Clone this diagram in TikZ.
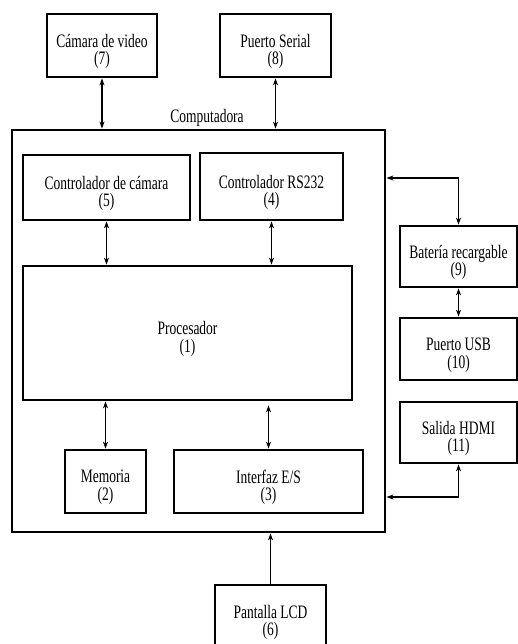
\documentclass[tikz,border=0pt]{standalone}
\usepackage{fontspec}
\setmainfont{Liberation Serif}[FakeStretch=0.71]
\usetikzlibrary{arrows.meta}
\begin{document}
\begin{tikzpicture}[x=1pt,y=-1pt,
  blk/.style={draw,line width=2.8pt,rectangle,inner sep=0pt},
  txt/.style={inner sep=0pt,align=center,font=\fontsize{19}{17.6}\selectfont,yshift=-6pt},
  arr/.style={line width=1.5pt,{Stealth[length=7pt,width=5pt]}-{Stealth[length=7pt,width=5pt]}},
  arrone/.style={line width=1.5pt,-{Stealth[length=7pt,width=5pt]}}]
\fill[white] (0,0) rectangle (518,644);
\useasboundingbox (0,0) rectangle (518,644);
\begin{scope}
\clip (0,0) rectangle (518,644);
\node[blk,minimum width=110pt,minimum height=63pt] (cam7) at (102,45.5) {};
\node[txt] (cam7t) at (cam7.center) {Cámara de video\\(7)};
\node[blk,minimum width=111pt,minimum height=63pt] (ser8) at (275.5,45.5) {};
\node[txt] (ser8t) at (ser8.center) {Puerto Serial\\(8)};
\node[blk,minimum width=373pt,minimum height=402pt] (comp) at (198.5,331) {};
\node[txt,yshift=6pt] (complbl) at (207,118) {Computadora};
\node[blk,minimum width=167pt,minimum height=65pt] (ctl5) at (106.5,187.5) {};
\node[txt] (ctl5t) at (ctl5.center) {Controlador de cámara\\(5)};
\node[blk,minimum width=143pt,minimum height=67pt] (rs4) at (271.5,186.5) {};
\node[txt] (rs4t) at (rs4.center) {Controlador RS232\\(4)};
\node[blk,minimum width=329pt,minimum height=134pt] (proc1) at (187.5,333) {};
\node[txt] (proc1t) at (proc1.center) {Procesador\\(1)};
\node[blk,minimum width=81pt,minimum height=63pt] (mem2) at (105.5,481.5) {};
\node[txt] (mem2t) at (mem2.center) {Memoria\\(2)};
\node[blk,minimum width=189pt,minimum height=63pt] (io3) at (268.5,481.5) {};
\node[txt] (io3t) at (io3.center) {Interfaz E/S\\(3)};
\node[blk,minimum width=111pt,minimum height=63pt] (lcd6) at (270.5,616.5) {};
\node[txt] (lcd6t) at (lcd6.center) {Pantalla LCD\\(6)};
\node[blk,minimum width=117pt,minimum height=61pt] (bat9) at (458.5,256.5) {};
\node[txt] (bat9t) at (bat9.center) {Batería recargable\\(9)};
\node[blk,minimum width=117pt,minimum height=62pt] (usb10) at (458.5,349) {};
\node[txt] (usb10t) at (usb10.center) {Puerto USB\\(10)};
\node[blk,minimum width=117pt,minimum height=61pt] (hdmi11) at (458.5,432.5) {};
\node[txt] (hdmi11t) at (hdmi11.center) {Salida HDMI\\(11)};
\coordinate (jb) at (386,178);
\coordinate (jh) at (386,497);
\draw[arr] (cam7.south) -- (cam7.south |- comp.north);
\draw[arr] (ser8.south) -- (ser8.south |- comp.north);
\draw[arr] (ctl5.south) -- (ctl5.south |- proc1.north);
\draw[arr] (rs4.south) -- (rs4.south |- proc1.north);
\draw[arr] (mem2.north |- proc1.south) -- (mem2.north);
\draw[arr] ([yshift=-4pt]io3.north |- proc1.south) -- (io3.north);
\draw[arrone] (lcd6.north) -- (lcd6.north |- comp.south);
\draw[arr] (bat9.north) |- (comp.east |- jb);
\draw[arr] (bat9.south) -- (usb10.north);
\draw[arr] (hdmi11.south) |- (comp.east |- jh);
\end{scope}
\end{tikzpicture}
\end{document}
